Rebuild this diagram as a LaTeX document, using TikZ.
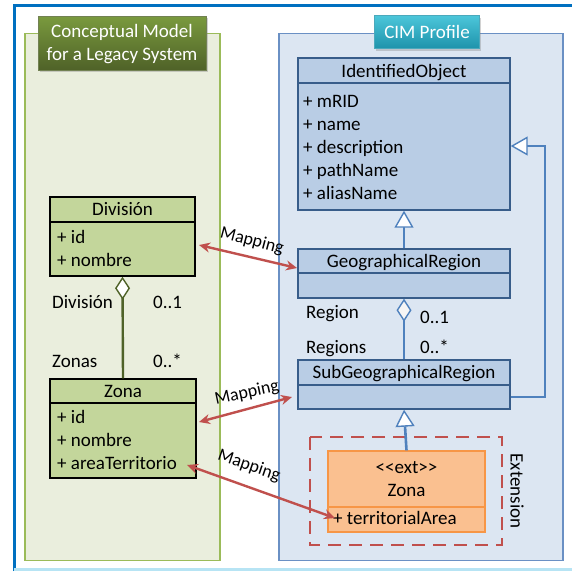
\documentclass[tikz,border=0pt]{standalone}
\usepackage{fontspec}
\setmainfont{Carlito}
\usetikzlibrary{arrows.meta,shadows,calc}

\definecolor{frameblue}{HTML}{0070C0}
\definecolor{legfill}{HTML}{EAEEDD}
\definecolor{legline}{HTML}{9BBB59}
\definecolor{legclass}{HTML}{C3D69B}
\definecolor{legdark}{HTML}{4F6228}
\definecolor{legtitletop}{HTML}{7A9A3E}
\definecolor{cimfill}{HTML}{DCE6F2}
\definecolor{cimline}{HTML}{6A90C4}
\definecolor{cimclass}{HTML}{B9CDE5}
\definecolor{cimborder}{HTML}{385D8A}
\definecolor{cimconn}{HTML}{4F81BD}
\definecolor{cimtitletop}{HTML}{4CC6DA}
\definecolor{cimtitlebot}{HTML}{1E93AB}
\definecolor{extfill}{HTML}{FAC090}
\definecolor{extline}{HTML}{F79646}
\definecolor{mapred}{HTML}{C0504D}
\definecolor{bottomcyan}{HTML}{B7E4F4}

\tikzset{
  panelleg/.style={draw=legline, line width=1.5pt, fill=legfill, inner sep=0pt},
  panelcim/.style={draw=cimline, line width=1.2pt, fill=cimfill, inner sep=0pt},
  titlefont/.style={font=\fontsize{19}{23}\selectfont},
  legtitle/.style={titlefont, draw=legdark!80, line width=0.6pt, top color=legtitletop, bottom color=legdark,
    text=white, align=center, inner sep=0pt,
    drop shadow={shadow xshift=1.5pt, shadow yshift=-2pt, opacity=0.35}},
  cimtitle/.style={titlefont, draw=cimtitlebot!80, line width=0.6pt, top color=cimtitletop, bottom color=cimtitlebot,
    text=white, inner sep=0pt,
    drop shadow={shadow xshift=1.5pt, shadow yshift=-2pt, opacity=0.35}},
  legbox/.style={draw=black, line width=1.5pt, fill=legclass, inner sep=0pt},
  cimbox/.style={draw=cimborder, line width=1.4pt, fill=cimclass, inner sep=0pt},
  extbox/.style={draw=extline, line width=1.2pt, fill=extfill, inner sep=0pt},
  txt/.style={font=\fontsize{19}{22}\selectfont, inner sep=0pt},
  head/.style={txt, anchor=base},
  attr/.style={txt, anchor=base west},
  mapping/.style={draw=mapred, line width=2.4pt,
    {Stealth[length=11pt,width=10pt]}-{Stealth[length=11pt,width=10pt]}},
  maplabel/.style={font=\fontsize{18}{21}\selectfont, inner sep=0pt},
  gen/.style={draw=cimconn, line width=2.6pt,
    -{Triangle[length=17pt,width=19pt,fill=white,line width=1.4pt]}},
  aggcim/.style={draw=cimconn, line width=2.6pt,
    -{Diamond[length=23pt,width=15pt,fill=white!92!gray,line width=1.4pt]}},
  agglegacy/.style={draw=legdark, line width=2.4pt,
    -{Diamond[length=23pt,width=15pt,fill=white,line width=1.4pt]}},
}

\begin{document}
\begin{tikzpicture}[x=1pt,y=-1pt]
\useasboundingbox (0,0) rectangle (572,571);
\fill[white] (0,0) rectangle (572,571);

% surrounding frame
\draw[frameblue, line width=3pt] (14,571) -- (14,5) -- (572,5);
\fill[bottomcyan] (14,568) rectangle (572,571);

% the two panels
\node[panelleg, minimum width=195, minimum height=527] (legacy) at (122.5,297) {};
\node[panelcim, minimum width=284, minimum height=527] (cim) at (421,297) {};
\node[legtitle, minimum width=168, minimum height=54] (legtitlebox) at (122,43) {};
\node[txt, text=white, anchor=base] (lt1) at (122,37) {Conceptual Model};
\node[txt, text=white, anchor=base] (lt2) at (122,60) {for a Legacy System};
\node[cimtitle, minimum width=105, minimum height=33] (cimtitlebox) at (427,32) {};
\node[txt, text=white, anchor=base] (ct) at (427,38) {CIM Profile};

% ---- legacy model ----
\node[legbox, minimum width=145, minimum height=79] (div) at (122.5,236.5) {};
\draw[black, line width=1.3pt] (div.west |- 0,222) -- (div.east |- 0,222);
\node[head] (divname) at (122.5,215) {División};
\node[attr] (divid) at (57,243) {+ id};
\node[attr] (divnom) at (57,266) {+ nombre};

\node[legbox, minimum width=146, minimum height=99] (zona) at (123,428.5) {};
\draw[black, line width=1.3pt] (zona.west |- 0,403) -- (zona.east |- 0,403);
\node[head] (zonaname) at (123,397) {Zona};
\node[attr] (zonaid) at (57,423) {+ id};
\node[attr] (zonanom) at (57,446) {+ nombre};
\node[attr] (zonaarea) at (57,469) {+ areaTerritorio};

\draw[agglegacy] (zona.north) -- (div.south);
\node[attr] (lr1) at (52,308) {División};
\node[attr] (lm1) at (153,308) {0..1};
\node[attr] (lr2) at (52,367) {Zonas};
\node[attr] (lm2) at (153,367) {0..*};

% ---- CIM profile ----
\node[cimbox, minimum width=212, minimum height=152] (io) at (404,134) {};
\draw[cimborder, line width=1.3pt] (io.west |- 0,83) -- (io.east |- 0,83);
\node[head] (ioname) at (404,77) {IdentifiedObject};
\node[attr] (a1) at (303,107) {+ mRID};
\node[attr] (a2) at (303,130) {+ name};
\node[attr] (a3) at (303,153) {+ description};
\node[attr] (a4) at (303,176) {+ pathName};
\node[attr] (a5) at (303,199) {+ aliasName};

\node[cimbox, minimum width=212, minimum height=49] (geo) at (404,273.5) {};
\draw[cimborder, line width=1.3pt] (geo.west |- 0,273) -- (geo.east |- 0,273);
\node[head] (geoname) at (404,267) {GeographicalRegion};

\node[cimbox, minimum width=212, minimum height=49] (sub) at (404,384.5) {};
\draw[cimborder, line width=1.3pt] (sub.west |- 0,385) -- (sub.east |- 0,385);
\node[head] (subname) at (404,378.5) {SubGeographicalRegion};

\draw[gen] (geo.north) -- (io.south);
\draw[aggcim] (sub.north) -- (geo.south);
\node[attr] (cr1) at (306,318) {Region};
\node[attr] (cm1) at (420,323) {0..1};
\node[attr] (cr2) at (306,353) {Regions};
\node[attr] (cm2) at (420,353) {0..*};

\coordinate (retlow) at (545,397);
\coordinate (rethigh) at (545,146);
\draw[gen] (sub.east |- retlow) -- (retlow) -- (rethigh) -- (io.east |- rethigh);

% extension package
\draw[mapred, line width=2.4pt, dash pattern=on 13pt off 8pt] (310,437) rectangle (502,545);
\node[txt, rotate=-90] (extlabel) at (517,491) {Extension};
\node[extbox, minimum width=157, minimum height=81] (ext) at (406.5,491.5) {};
\draw[extline, line width=1.2pt] (ext.west |- 0,507) -- (ext.east |- 0,507);
\node[head] (extst) at (406.5,473) {<\kern0pt<ext>\kern0pt>};
\node[head] (extname) at (406.5,496) {Zona};
\node[attr] (extattr) at (333,524) {+ territorialArea};

\draw[gen] (ext.north) -- (sub.south);

% mappings between the models
\coordinate (m1a) at (199,245);
\coordinate (m1b) at (297,268);
\coordinate (m2a) at (199,422);
\coordinate (m2b) at (292,397);
\coordinate (m3a) at (187,465);
\coordinate (m3b) at (335,518);
\draw[mapping] (m1a) -- (m1b);
\draw[mapping] (m2a) -- (m2b);
\draw[mapping] (m3a) -- (m3b);
\node[maplabel, rotate=-15] (map1) at (252,241) {Mapping};
\node[maplabel, rotate=12] (map2) at (247,393) {Mapping};
\node[maplabel, rotate=-19] (map3) at (249,466) {Mapping};
\end{tikzpicture}
\end{document}
